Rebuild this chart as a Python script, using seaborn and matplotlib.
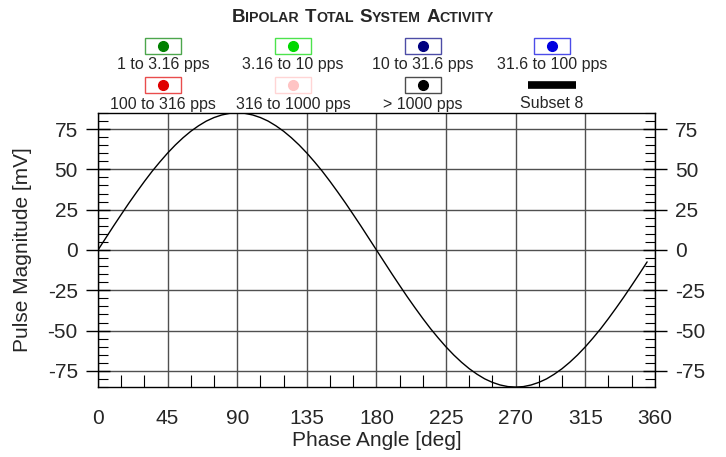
import numpy as np
import pandas as pd
import matplotlib
matplotlib.use("Agg")
import matplotlib.pyplot as plt
import seaborn as sns
from matplotlib.patches import Rectangle
from matplotlib.lines import Line2D
from matplotlib.offsetbox import TextArea, HPacker, AnchoredOffsetbox

# phase angle (deg) and pulse magnitude (mV), every 5 deg
phase = list(range(0, 360, 5))
magnitude = [
    0.0, 7.4, 14.8, 22.0, 29.1, 35.9, 42.5, 48.8, 54.6, 60.1, 65.1, 69.6,
    73.6, 77.0, 79.9, 82.1, 83.7, 84.7, 85.0, 84.7, 83.7, 82.1, 79.9, 77.0,
    73.6, 69.6, 65.1, 60.1, 54.6, 48.8, 42.5, 35.9, 29.1, 22.0, 14.8, 7.4,
    0.0, -7.4, -14.8, -22.0, -29.1, -35.9, -42.5, -48.8, -54.6, -60.1, -65.1, -69.6,
    -73.6, -77.0, -79.9, -82.1, -83.7, -84.7, -85.0, -84.7, -83.7, -82.1, -79.9, -77.0,
    -73.6, -69.6, -65.1, -60.1, -54.6, -48.8, -42.5, -35.9, -29.1, -22.0, -14.8, -7.4,
]

legend_labels = ["1 to 3.16 pps", "3.16 to 10 pps", "10 to 31.6 pps", "31.6 to 100 pps",
                 "100 to 316 pps", "316 to 1000 pps", "> 1000 pps", "Subset 8"]
legend_colors = ["#008000", "#00d800", "#000080", "#0000e0",
                 "#e00000", "#ffc4c4", "#000000", "#000000"]

x_ticks = [0, 45, 90, 135, 180, 225, 270, 315, 360]
y_ticks = [-75, -50, -25, 0, 25, 50, 75]

sns.set_style("white")
plt.rcParams["font.family"] = ["Liberation Sans", "DejaVu Sans"]
plt.rcParams["axes.unicode_minus"] = False

df = pd.DataFrame({"phase": phase, "magnitude": magnitude})

fig = plt.figure(figsize=(7.26, 4.57), dpi=100)
ax = fig.add_axes([0.135, 0.153, 0.767, 0.600])

sns.lineplot(data=df, x="phase", y="magnitude", color="black", linewidth=1.0, ax=ax)

ax.set_xlim(0, 360)
ax.set_ylim(-85, 85)
ax.set_xticks(x_ticks)
ax.set_yticks(y_ticks)
ax.set_xticks(np.arange(0, 361, 15), minor=True)
ax.set_yticks(np.arange(-85, 86, 5), minor=True)
ax.grid(True, which="major", color="#505050", linewidth=1.0)
for s in ax.spines.values():
    s.set_color("black")
    s.set_linewidth(1.0)

ax.tick_params(axis="x", which="major", direction="out", length=11, width=1,
               color="black", labelsize=15, pad=5)
ax.tick_params(axis="x", which="minor", direction="in", length=8.5, width=0.8,
               color="black", bottom=True)
ax.tick_params(axis="y", which="major", direction="inout", length=17, width=1,
               color="black", labelsize=15, left=True, right=True,
               labelleft=True, labelright=True, pad=6)
ax.tick_params(axis="y", which="minor", direction="in", length=7, width=0.8,
               color="black", left=True, right=True)

ax.set_xlabel("Phase Angle [deg]", fontsize=15)
ax.set_ylabel("Pulse Magnitude [mV]", fontsize=15)
ax.xaxis.set_label_coords(0.5, -(440 - 387) / 274, transform=ax.transAxes)
ax.yaxis.set_label_coords(-(98 - 22) / 557, 0.5, transform=ax.transAxes)
ax.xaxis.label.set_va("center")
ax.yaxis.label.set_va("center")

# small caps title
def small_caps(words, big=13.5, small=10.2):
    packs = []
    for w in words:
        parts = [TextArea(w[0], textprops=dict(fontsize=big, fontweight="bold")),
                 TextArea(w[1:], textprops=dict(fontsize=small, fontweight="bold"))]
        packs.append(HPacker(children=parts, align="baseline", pad=0, sep=0))
    return HPacker(children=packs, align="baseline", pad=0, sep=4)

title_box = small_caps(["BIPOLAR", "TOTAL", "SYSTEM", "ACTIVITY"])
anchored = AnchoredOffsetbox(loc="center", child=title_box, frameon=False, pad=0,
                             bbox_to_anchor=(0.5, 1 - 17.5 / 457),
                             bbox_transform=fig.transFigure, borderpad=0)
fig.add_artist(anchored)

# legend: marker in a box above each label, 4 columns x 2 rows
W, H = 726, 457
col_x = [163, 293, 423, 552]
box_y = [46, 85]
label_y = [65, 104]
for i, (lab, col) in enumerate(zip(legend_labels, legend_colors)):
    r, c = divmod(i, 4)
    cx, cy = col_x[c], box_y[r]
    if lab == "Subset 8":
        fig.add_artist(Line2D([(cx - 24) / W, (cx + 24) / W], [1 - cy / H] * 2,
                              color=col, linewidth=5.5, solid_capstyle="butt",
                              transform=fig.transFigure))
    else:
        fig.add_artist(Rectangle(((cx - 18) / W, 1 - (cy + 8) / H), 36 / W, 16 / H,
                                 transform=fig.transFigure, facecolor="white",
                                 edgecolor=col, alpha=0.7, linewidth=1.0))
        fig.add_artist(Line2D([cx / W], [1 - cy / H], marker="o", markersize=7,
                              color=col, linestyle="none",
                              transform=fig.transFigure))
    fig.text(cx / W, 1 - label_y[r] / H, lab, ha="center", va="center", fontsize=11.5)

fig.savefig("out.png", dpi=100)
